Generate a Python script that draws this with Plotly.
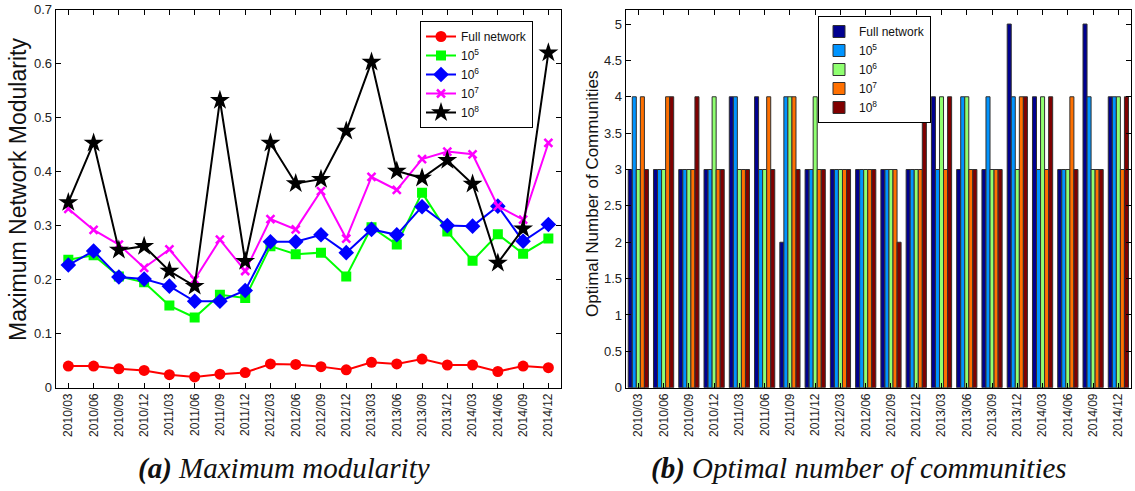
import plotly.graph_objects as go

periods = ["2010/03", "2010/06", "2010/09", "2010/12", "2011/03", "2011/06", "2011/09", "2011/12",
           "2012/03", "2012/06", "2012/09", "2012/12", "2013/03", "2013/06", "2013/09", "2013/12",
           "2014/03", "2014/06", "2014/09", "2014/12"]

series_names = ["Full network", "10<sup>5</sup>", "10<sup>6</sup>", "10<sup>7</sup>", "10<sup>8</sup>"]

# (a) Maximum modularity
mod_full = [0.040, 0.040, 0.035, 0.032, 0.024, 0.020, 0.025, 0.028, 0.044, 0.043,
            0.039, 0.033, 0.047, 0.044, 0.053, 0.042, 0.042, 0.030, 0.040, 0.037]
mod_1e5 = [0.237, 0.245, 0.206, 0.195, 0.152, 0.130, 0.172, 0.166, 0.262, 0.247,
           0.250, 0.206, 0.297, 0.265, 0.361, 0.289, 0.235, 0.284, 0.248, 0.276]
mod_1e6 = [0.227, 0.253, 0.205, 0.201, 0.188, 0.160, 0.160, 0.180, 0.270, 0.270,
           0.283, 0.250, 0.293, 0.283, 0.335, 0.300, 0.299, 0.336, 0.271, 0.302]
mod_1e7 = [0.331, 0.292, 0.265, 0.222, 0.256, 0.200, 0.274, 0.216, 0.312, 0.293,
           0.364, 0.276, 0.390, 0.366, 0.423, 0.437, 0.432, 0.336, 0.311, 0.453]
mod_1e8 = [0.343, 0.453, 0.255, 0.262, 0.216, 0.188, 0.532, 0.234, 0.453, 0.378,
           0.386, 0.475, 0.603, 0.401, 0.388, 0.421, 0.377, 0.231, 0.294, 0.620]

# (b) Optimal number of communities
com_full = [3, 3, 3, 3, 4, 4, 2, 3, 3, 3, 3, 3, 4, 3, 3, 5, 4, 3, 5, 4]
com_1e5 = [4, 3, 3, 3, 4, 3, 4, 3, 3, 3, 3, 3, 3, 4, 4, 4, 3, 3, 4, 4]
com_1e6 = [3, 3, 3, 4, 3, 3, 4, 4, 3, 3, 3, 3, 4, 4, 3, 3, 4, 3, 3, 4]
com_1e7 = [4, 4, 3, 3, 3, 4, 4, 3, 3, 3, 3, 3, 3, 3, 3, 4, 3, 4, 3, 3]
com_1e8 = [3, 4, 4, 3, 3, 3, 3, 3, 3, 3, 2, 4, 4, 3, 3, 4, 4, 3, 3, 4]

line_colors = ["#ff0000", "#00ff00", "#0000ff", "#ff00ff", "#000000"]
line_symbols = ["circle", "square", "diamond", "x-thin-open", "star"]
line_sizes = [11, 10, 12, 8, 15]
bar_colors = ["#000090", "#0094ff", "#8fff70", "#ff7000", "#800000"]

W, H = 1135, 491
def px(x):
    return x / W
def py(y):
    return 1 - y / H

fig = go.Figure()

mod_data = [mod_full, mod_1e5, mod_1e6, mod_1e7, mod_1e8]
for name, vals, c, s, sz in zip(series_names, mod_data, line_colors, line_symbols, line_sizes):
    marker = dict(symbol=s, size=sz, color=c)
    if s == "x-thin-open":
        marker["line"] = dict(color=c, width=2.5)
    else:
        marker["line"] = dict(color=c, width=0)
    fig.add_trace(go.Scatter(x=periods, y=vals, mode="lines+markers", name=name,
                             line=dict(color=c, width=2), marker=marker,
                             xaxis="x", yaxis="y", legend="legend"))

com_data = [com_full, com_1e5, com_1e6, com_1e7, com_1e8]
for name, vals, c in zip(series_names, com_data, bar_colors):
    fig.add_trace(go.Bar(x=periods, y=vals, name=name,
                         marker=dict(color=c, line=dict(color="#303030", width=1)),
                         xaxis="x2", yaxis="y2", legend="legend2"))

def axis_common(size):
    return dict(showline=True, linecolor="black", linewidth=1, mirror="ticks",
                ticks="inside", ticklen=5, tickcolor="black", showgrid=False,
                zeroline=False, automargin=False,
                tickfont=dict(family="Liberation Sans", size=size, color="#222"))

ydom = [py(387.7), py(9.5)]
fig.update_layout(
    width=W, height=H, autosize=False,
    margin=dict(l=0, r=0, t=0, b=0, pad=0, autoexpand=False),
    paper_bgcolor="white", plot_bgcolor="white",
    barmode="group", bargap=0.2, bargroupgap=0,
    font=dict(family="Liberation Sans", color="#222"),
    xaxis=dict(domain=[px(55.7), px(561)], type="category", range=[-0.5, 19.5],
               tickangle=-90, **axis_common(12), anchor="y"),
    yaxis=dict(domain=ydom, range=[0, 0.7], dtick=0.1, **axis_common(13), anchor="x"),
    xaxis2=dict(domain=[px(625.7), px(1131)], type="category", range=[-0.5, 19.5],
                tickangle=-90, **axis_common(12), anchor="y2"),
    yaxis2=dict(domain=ydom, range=[0, 5.2], dtick=0.5, **axis_common(13), anchor="x2"),
    legend=dict(x=px(420), y=py(21), xanchor="left", yanchor="top",
                bordercolor="black", borderwidth=1, bgcolor="white",
                font=dict(family="Liberation Sans", size=12, color="#111"),
                tracegroupgap=0, itemwidth=30),
    legend2=dict(x=px(818), y=py(16), xanchor="left", yanchor="top",
                 bordercolor="black", borderwidth=1, bgcolor="white",
                 font=dict(family="Liberation Sans", size=12, color="#111"),
                 tracegroupgap=0, itemwidth=30),
    showlegend=True,
    annotations=[
        dict(text="Maximum Network Modularity", xref="paper", yref="paper",
             x=px(18), y=py(190), xanchor="center", yanchor="middle", textangle=-90,
             showarrow=False, font=dict(family="Liberation Sans", size=23, color="#111")),
        dict(text="Optimal Number of Communities", xref="paper", yref="paper",
             x=px(592), y=py(194), xanchor="center", yanchor="middle", textangle=-90,
             showarrow=False, font=dict(family="Liberation Sans", size=17, color="#111")),
        dict(text="<b><i>(a)</i></b><i> Maximum modularity</i>", xref="paper", yref="paper",
             x=px(284), y=py(468), xanchor="center", yanchor="middle", showarrow=False,
             font=dict(family="Liberation Serif", size=29, color="#111")),
        dict(text="<b><i>(b)</i></b><i> Optimal number of communities</i>", xref="paper", yref="paper",
             x=px(859), y=py(468), xanchor="center", yanchor="middle", showarrow=False,
             font=dict(family="Liberation Serif", size=29, color="#111")),
    ],
)

fig.write_html("out.html", config={"displayModeBar": False},
               post_script="document.body.style.margin='0';document.body.style.padding='0';document.body.style.overflow='hidden';")
